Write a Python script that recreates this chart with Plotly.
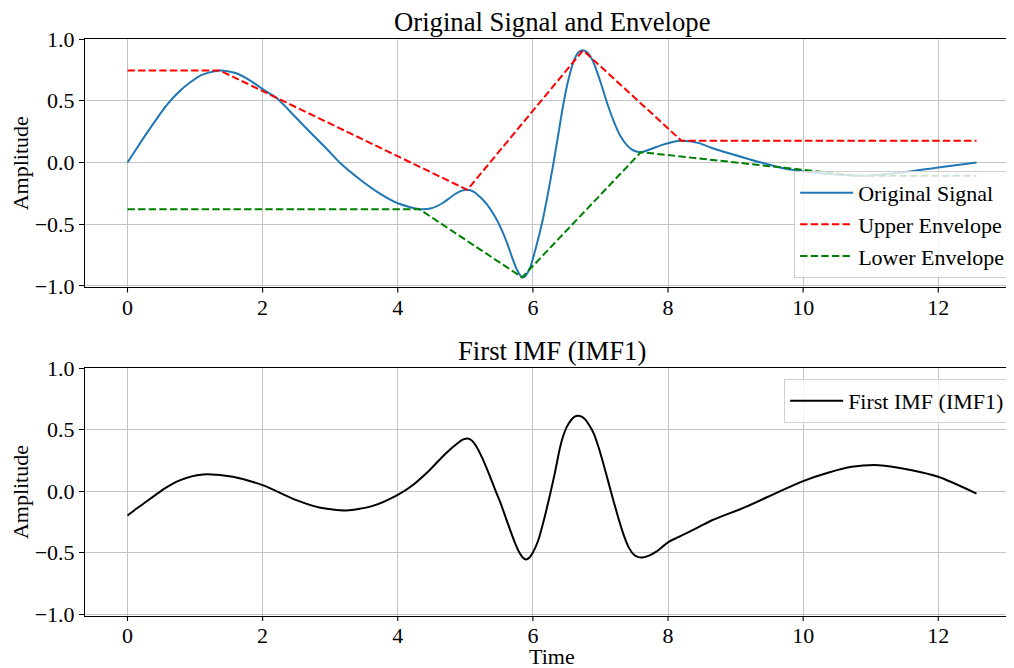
import plotly.graph_objects as go

# ---- data ----
sig_t = [0, 0.14, 0.28, 0.43, 0.577, 0.75, 0.92, 1.1, 1.365, 1.6, 1.8, 2.0, 2.2, 2.5, 2.74,
         2.95, 3.14, 3.48, 3.73, 4.0, 4.32, 4.5, 4.66, 4.85, 4.95, 5.03, 5.12, 5.22, 5.32,
         5.43, 5.53, 5.62, 5.70, 5.77, 5.81, 5.84, 5.87, 5.90, 5.96, 6.04, 6.14, 6.22, 6.30,
         6.38, 6.45, 6.53, 6.61, 6.68, 6.743, 6.81, 6.89, 6.99, 7.10, 7.20, 7.30, 7.40, 7.50,
         7.6, 7.75, 7.915, 8.05, 8.2, 8.46, 8.65, 9.15, 9.64, 10.01, 10.38, 10.82, 11.36,
         12.0, 12.566]
sig_v = [0, 0.118, 0.234, 0.352, 0.462, 0.567, 0.646, 0.71, 0.746, 0.725, 0.67, 0.595, 0.526,
         0.36, 0.225, 0.11, 0.0, -0.154, -0.25, -0.33, -0.378, -0.37, -0.33, -0.255, -0.228,
         -0.221, -0.235, -0.28, -0.34, -0.43, -0.535, -0.655, -0.78, -0.875, -0.912, -0.928,
         -0.928, -0.912, -0.85, -0.70, -0.48, -0.26, -0.02, 0.24, 0.47, 0.68, 0.83, 0.895,
         0.91, 0.89, 0.82, 0.67, 0.48, 0.33, 0.21, 0.135, 0.095, 0.084, 0.11, 0.143, 0.165,
         0.176, 0.157, 0.117, 0.035, -0.038, -0.073, -0.094, -0.108, -0.087, -0.04, 0.0]

up_t = [0, 1.365, 5.03, 6.743, 8.2, 12.566]
up_v = [0.746, 0.746, -0.221, 0.909, 0.176, 0.176]

lo_t = [0, 4.32, 5.84, 7.6, 10.82, 12.566]
lo_v = [-0.378, -0.378, -0.93, 0.084, -0.108, -0.108]

imf_t = [0, 0.14, 0.28, 0.43, 0.577, 0.72, 0.87, 1.03, 1.19, 1.56, 2.0, 2.5, 2.84, 3.24, 3.63,
         4.0, 4.22, 4.47, 4.71, 4.9, 4.97, 5.035, 5.10, 5.15, 5.25, 5.35, 5.45, 5.53, 5.62,
         5.72, 5.80, 5.85, 5.90, 5.95, 6.00, 6.08, 6.17, 6.266, 6.33, 6.40, 6.45, 6.50, 6.57,
         6.62, 6.67, 6.72, 6.77, 6.83, 6.90, 6.97, 7.07, 7.153, 7.25, 7.34, 7.42, 7.50, 7.56,
         7.62, 7.72, 7.82, 8.01, 8.16, 8.46, 8.65, 9.15, 9.64, 10.01, 10.38, 10.72, 11.12,
         11.61, 12.0, 12.566]
imf_v = [-0.199, -0.14, -0.085, -0.025, 0.03, 0.075, 0.107, 0.128, 0.137, 0.116, 0.048, -0.074,
         -0.134, -0.158, -0.12, -0.03, 0.048, 0.17, 0.306, 0.395, 0.42, 0.428, 0.41, 0.375,
         0.27, 0.14, 0.0, -0.11, -0.25, -0.40, -0.50, -0.54, -0.557, -0.54, -0.50, -0.40,
         -0.22, 0.0, 0.16, 0.35, 0.45, 0.52, 0.58, 0.605, 0.612, 0.605, 0.585, 0.54, 0.47,
         0.36, 0.17, 0.0, -0.19, -0.35, -0.46, -0.52, -0.537, -0.54, -0.525, -0.495, -0.413,
         -0.373, -0.291, -0.237, -0.129, -0.006, 0.083, 0.151, 0.197, 0.211, 0.17, 0.116,
         -0.02]

x_ticks = [0, 2, 4, 6, 8, 10, 12]
y_ticks = [-1.0, -0.5, 0.0, 0.5, 1.0]

FONT = "Liberation Serif"
dash = "7.4px,3.2px"

fig = go.Figure()
fig.add_trace(go.Scatter(x=sig_t, y=sig_v, mode="lines", name="Original Signal",
                         line=dict(color="#1f77b4", width=2, shape="spline", smoothing=0.7),
                         xaxis="x", yaxis="y", legend="legend"))
fig.add_trace(go.Scatter(x=up_t, y=up_v, mode="lines", name="Upper Envelope",
                         line=dict(color="#ff0000", width=2, dash=dash),
                         xaxis="x", yaxis="y", legend="legend"))
fig.add_trace(go.Scatter(x=lo_t, y=lo_v, mode="lines", name="Lower Envelope",
                         line=dict(color="#008000", width=2, dash=dash),
                         xaxis="x", yaxis="y", legend="legend"))
fig.add_trace(go.Scatter(x=imf_t, y=imf_v, mode="lines", name="First IMF (IMF1)",
                         line=dict(color="black", width=2, shape="spline", smoothing=0.7),
                         xaxis="x2", yaxis="y2", legend="legend2"))

base_axis = dict(showline=True, linecolor="black", linewidth=1.1, mirror=True,
                 showgrid=True, gridcolor="#c4c4c4", gridwidth=1, zeroline=False,
                 tickfont=dict(family=FONT, size=22, color="black"))
y_axis_common = dict(ticks="outside", ticklen=5, tickwidth=1.1, tickcolor="black",
                     **base_axis)
# x tick marks are drawn as shapes below so the labels can sit as close as in the reference
x_axis_common = dict(ticks="", **base_axis)

top_dom = [0.5694, 1.0]
bot_dom = [0.0, 0.4297]
xr = [-0.629, 13.195]

legend_common = dict(bgcolor="rgba(255,255,255,0.8)", bordercolor="#d0d0d0", borderwidth=1,
                     itemwidth=53, font=dict(family=FONT, size=22, color="black"))

fig.update_layout(
    width=1014, height=668,
    margin=dict(l=77, r=1.4, t=31.3, b=60.3),
    paper_bgcolor="white", plot_bgcolor="white",
    font=dict(family=FONT, color="black"),
    xaxis=dict(domain=[0, 1], range=xr, anchor="y", tickvals=x_ticks, **x_axis_common),
    yaxis=dict(domain=top_dom, range=[-1.012, 1.0005], anchor="x", tickvals=y_ticks,
               tickformat=".1f", **y_axis_common),
    xaxis2=dict(domain=[0, 1], range=xr, anchor="y2", tickvals=x_ticks, **x_axis_common),
    yaxis2=dict(domain=bot_dom, range=[-1.016, 1.0005], anchor="x2", tickvals=y_ticks,
                tickformat=".1f", **y_axis_common),
    legend=dict(x=0.9905, y=0.5859, xanchor="right", yanchor="bottom", **legend_common),
    legend2=dict(x=0.9905, y=0.4107, xanchor="right", yanchor="top", **legend_common),
    showlegend=True,
)

for xref, yref in (("x", "y domain"), ("x2", "y2 domain")):
    for tv in x_ticks:
        fig.add_shape(type="line", xref=xref, yref=yref, x0=tv, x1=tv,
                      ysizemode="pixel", yanchor=0, y0=0, y1=-5,
                      line=dict(color="black", width=1.1), layer="above")

ann = dict(showarrow=False, font=dict(family=FONT, size=22, color="black"))
title_font = dict(family=FONT, size=26.7, color="black")
fig.add_annotation(text="Original Signal and Envelope", xref="paper", yref="paper",
                   x=0.5, y=1.0, xanchor="center", yanchor="bottom", yshift=0,
                   showarrow=False, font=title_font)
fig.add_annotation(text="First IMF (IMF1)", xref="paper", yref="paper",
                   x=0.5, y=bot_dom[1], xanchor="center", yanchor="bottom", yshift=0,
                   showarrow=False, font=title_font)
fig.add_annotation(text="Amplitude", xref="paper", yref="paper", x=-0.0695,
                   y=(top_dom[0] + top_dom[1]) / 2, textangle=-90, xanchor="center",
                   yanchor="middle", **ann)
fig.add_annotation(text="Amplitude", xref="paper", yref="paper", x=-0.0695,
                   y=(bot_dom[0] + bot_dom[1]) / 2, textangle=-90, xanchor="center",
                   yanchor="middle", **ann)
fig.add_annotation(text="Time", xref="paper", yref="paper", x=0.5, y=0,
                   xanchor="center", yanchor="top", yshift=-26, **ann)

fig.write_html("out.html")
